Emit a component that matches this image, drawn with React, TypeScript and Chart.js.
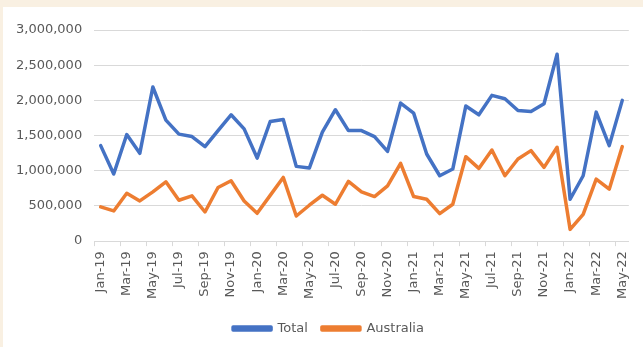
import React, { useEffect, useRef } from "react";
import { Chart, registerables } from "chart.js";

Chart.register(...registerables);

const months: string[] = [
  "Jan-19", "Feb-19", "Mar-19", "Apr-19", "May-19", "Jun-19", "Jul-19", "Aug-19", "Sep-19", "Oct-19", "Nov-19", "Dec-19",
  "Jan-20", "Feb-20", "Mar-20", "Apr-20", "May-20", "Jun-20", "Jul-20", "Aug-20", "Sep-20", "Oct-20", "Nov-20", "Dec-20",
  "Jan-21", "Feb-21", "Mar-21", "Apr-21", "May-21", "Jun-21", "Jul-21", "Aug-21", "Sep-21", "Oct-21", "Nov-21", "Dec-21",
  "Jan-22", "Feb-22", "Mar-22", "Apr-22", "May-22",
];

const totalValues: number[] = [
  1357000, 953000, 1514000, 1248000, 2190000, 1720000, 1520000, 1486000, 1343000, 1571000, 1795000, 1595000,
  1180000, 1700000, 1729000, 1062000, 1038000, 1548000, 1867000, 1571000, 1571000, 1486000, 1276000, 1962000,
  1819000, 1238000, 929000, 1024000, 1919000, 1795000, 2071000, 2024000, 1857000, 1843000, 1952000, 2655000,
  595000, 929000, 1833000, 1357000, 2000000,
];

const australiaValues: number[] = [
  486000, 429000, 681000, 571000, 700000, 843000, 581000, 643000, 414000, 762000, 857000, 571000,
  395000, 650000, 905000, 357000, 510000, 652000, 524000, 848000, 700000, 633000, 786000, 1105000,
  633000, 595000, 390000, 524000, 1200000, 1033000, 1295000, 929000, 1167000, 1286000, 1048000, 1333000,
  167000, 381000, 881000, 738000, 1343000,
];

const yTicks: number[] = [0, 500000, 1000000, 1500000, 2000000, 2500000, 3000000];

const BLUE = "#4472C4";
const ORANGE = "#ED7D31";
const TEXT = "#595959";
const GRID = "#d9d9d9";
const FONT = { family: "'DejaVu Sans'", size: 13 };

// Nudges the bottom legend so it sits centred under the plot area.
const legendShift = {
  id: "legendShift",
  afterLayout(chart: any) {
    const lg = chart.legend;
    if (!lg) return;
    lg.left += 10;
    lg.right += 10;
  },
};

export default function App() {
  const canvasRef = useRef<HTMLCanvasElement | null>(null);

  useEffect(() => {
    if (!canvasRef.current) return;
    const chart = new Chart(canvasRef.current, {
      type: "line",
      data: {
        labels: months,
        datasets: [
          {
            label: "Total",
            data: totalValues,
            borderColor: BLUE,
            backgroundColor: BLUE,
            borderWidth: 3.5,
            pointRadius: 0,
            tension: 0,
            borderJoinStyle: "round",
            borderCapStyle: "round",
          },
          {
            label: "Australia",
            data: australiaValues,
            borderColor: ORANGE,
            backgroundColor: ORANGE,
            borderWidth: 3.5,
            pointRadius: 0,
            tension: 0,
            borderJoinStyle: "round",
            borderCapStyle: "round",
          },
        ],
      },
      options: {
        responsive: false,
        animation: false,
        layout: { padding: { left: 4, right: 10, top: 30, bottom: 2 } },
        font: FONT,
        color: TEXT,
        scales: {
          x: {
            offset: true,
            afterFit: (scale: any) => {
              // extra room between the month labels and the legend
              scale.height += 4;
            },
            grid: {
              offset: true,
              drawOnChartArea: false,
              drawTicks: true,
              tickLength: 5,
              color: (ctx: any) => (ctx.index % 2 === 0 ? GRID : "rgba(0,0,0,0)"),
            },
            border: { display: true, color: GRID, width: 1 },
            ticks: {
              autoSkip: false,
              minRotation: 90,
              maxRotation: 90,
              padding: 5,
              color: TEXT,
              font: FONT,
              callback: (_v: any, i: number) => (i % 2 === 0 ? months[i] : ""),
            },
          },
          y: {
            min: 0,
            max: 3000000,
            afterBuildTicks: (scale: any) => {
              scale.ticks = yTicks.map((v) => ({ value: v }));
            },
            grid: { color: GRID, drawTicks: false, lineWidth: 1 },
            border: { display: false },
            ticks: {
              padding: 12,
              color: TEXT,
              font: FONT,
              callback: (v: any) => Number(v).toLocaleString("en-US"),
            },
          },
        },
        plugins: {
          legend: {
            position: "bottom",
            labels: {
              boxWidth: 38,
              boxHeight: 3,
              padding: 14,
              color: TEXT,
              font: FONT,
            },
          },
          tooltip: { enabled: false },
        },
      },
      plugins: [legendShift],
    });
    return () => chart.destroy();
  }, []);

  return (
    <div
      style={{
        position: "fixed",
        left: 0,
        top: 0,
        width: 643,
        height: 347,
        background: "#f9f0e2",
        overflow: "hidden",
      }}
    >
      <div
        style={{
          position: "absolute",
          left: 3,
          top: 7,
          right: 0,
          bottom: 0,
          background: "#ffffff",
        }}
      />
      <canvas
        ref={canvasRef}
        width={643}
        height={347}
        style={{ position: "absolute", left: 0, top: 0, width: 643, height: 347 }}
      />
    </div>
  );
}
